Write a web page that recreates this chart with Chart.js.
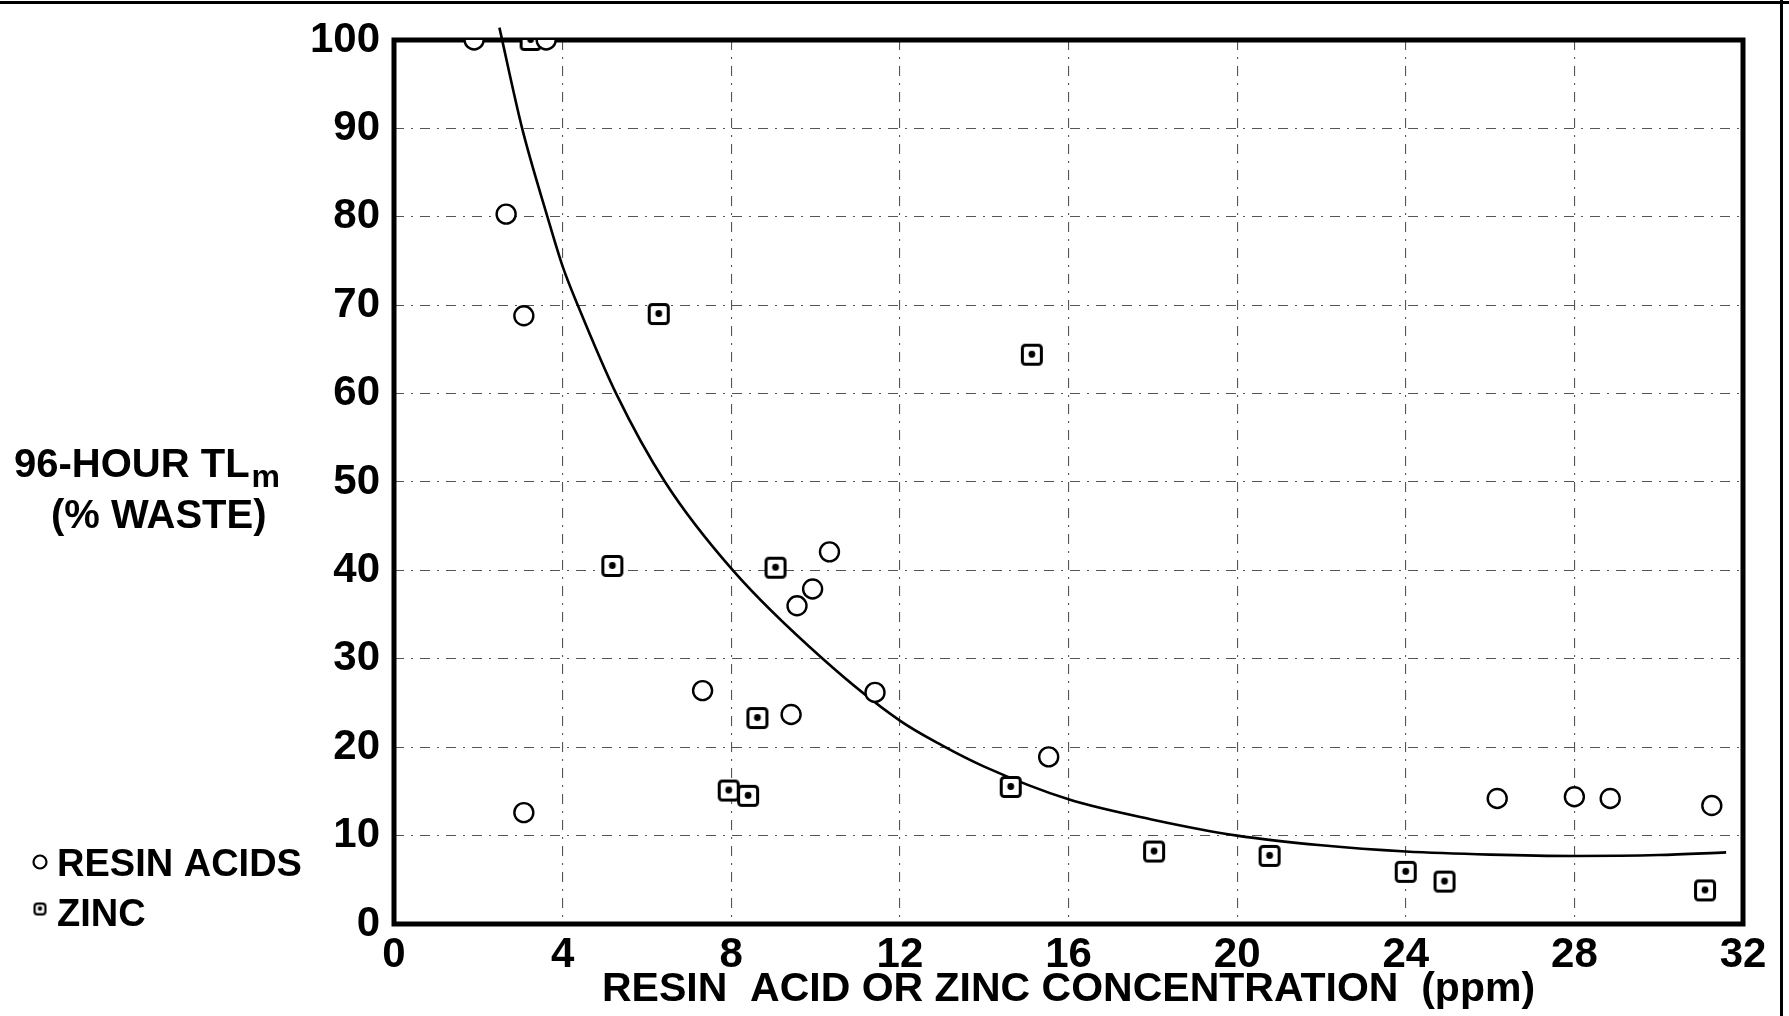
<!DOCTYPE html>
<html>
<head>
<meta charset="utf-8">
<title>96-Hour TLm vs Resin Acid or Zinc Concentration</title>
<script src="https://cdn.jsdelivr.net/npm/chart.js@4.4.0/dist/chart.umd.min.js"></script>
<style>
  html, body { margin: 0; padding: 0; background: #fff; }
  #wrap { position: relative; width: 1789px; height: 1016px; }
</style>
</head>
<body>
<div id="wrap"><canvas id="tlmChart" width="1789" height="1016"></canvas></div>
<script>
// resin acids, open circles (ppm, % waste)
const resinX = [1.9, 3.61, 2.66, 3.08, 3.08, 7.32, 9.42, 9.56, 9.93, 10.33, 11.41, 15.53, 26.17, 28.0, 28.85, 31.26];
const resinY = [100, 100, 80.3, 68.8, 12.6, 26.4, 23.7, 36.0, 37.9, 42.1, 26.2, 18.9, 14.2, 14.4, 14.2, 13.4];

// zinc, squares with a dot
const zincX = [3.24, 6.28, 15.13, 5.18, 9.05, 8.62, 7.94, 8.40, 14.63, 18.03, 20.77, 24.0, 24.92, 31.10];
const zincY = [100, 69.0, 64.4, 40.5, 40.3, 23.3, 15.1, 14.5, 15.5, 8.2, 7.7, 5.9, 4.8, 3.8];

// hand-fitted curve through both sets
const curveX = [2.5, 3.04, 3.64, 4.0, 4.36, 5.27, 6.43, 8.04, 10.17, 12.0, 13.0, 14.0, 16.0, 18.0, 20.0, 22.0, 24.0, 26.0, 28.0, 30.0, 31.6];
const curveY = [101.4, 90, 80, 74.4, 70, 60, 50, 40, 30, 23.0, 20.2, 17.8, 14.1, 11.8, 10.0, 8.9, 8.2, 7.85, 7.7, 7.8, 8.1];

const xTicks = [0, 4, 8, 12, 16, 20, 24, 28, 32];
const yTicks = [0, 10, 20, 30, 40, 50, 60, 70, 80, 90, 100];

const FONT = '"Liberation Sans", Arial, sans-serif';

const toPoints = (xs, ys) => xs.map((x, i) => ({ x: x, y: ys[i] }));

// rounded square with a dot in the middle, used as the zinc marker
function makeZincMarker(size, line, dot) {
    const c = document.createElement('canvas');
    c.width = size;
    c.height = size;
    const g = c.getContext('2d');
    const pad = line / 2 + 1;
    g.beginPath();
    g.roundRect(pad, pad, size - 2 * pad, size - 2 * pad, 3);
    g.fillStyle = '#fff';
    g.fill();
    g.lineWidth = line;
    g.strokeStyle = '#000';
    g.stroke();
    g.beginPath();
    g.arc(size / 2, size / 2 - 0.5, dot, 0, Math.PI * 2);
    g.fillStyle = '#000';
    g.fill();
    return c;
}

const zincMarker = makeZincMarker(24, 3, 3.4);
const zincLegendMarker = makeZincMarker(15, 2.2, 2.2);

const decorPlugin = {
    id: 'decor',
    beforeDatasetsDraw(chart) {
        const { ctx, chartArea: a } = chart;
        ctx.save();
        ctx.strokeStyle = '#000';
        ctx.lineWidth = 5;
        ctx.strokeRect(a.left, a.top, a.right - a.left, a.bottom - a.top);
        ctx.restore();
    },
    afterDraw(chart) {
        const ctx = chart.ctx;
        ctx.save();
        ctx.fillStyle = '#000';
        ctx.textAlign = 'left';
        ctx.textBaseline = 'alphabetic';

        // y axis title with subscript m
        ctx.font = 'bold 40px ' + FONT;
        ctx.fillText('96-HOUR TL', 14, 477);
        const w = ctx.measureText('96-HOUR TL').width;
        ctx.font = 'bold 32px ' + FONT;
        ctx.fillText('m', 14 + w + 2, 487);
        ctx.font = 'bold 40px ' + FONT;
        ctx.fillText('(% WASTE)', 51, 528);

        // legend
        ctx.beginPath();
        ctx.arc(40, 862, 6.5, 0, Math.PI * 2);
        ctx.lineWidth = 2.2;
        ctx.strokeStyle = '#000';
        ctx.stroke();
        ctx.font = 'bold 38px ' + FONT;
        ctx.fillText('RESIN ACIDS', 57, 876);
        ctx.drawImage(zincLegendMarker, 40 - 7.5, 909 - 7.5);
        ctx.fillText('ZINC', 57, 926);

        // sheet edges
        ctx.fillRect(0, 1, 1789, 3);
        ctx.fillRect(1780, 0, 3, 1016);
        ctx.restore();
    }
};

Chart.defaults.font.family = FONT;
Chart.defaults.color = '#000';

new Chart(document.getElementById('tlmChart'), {
    type: 'scatter',
    data: {
        datasets: [
            {
                label: 'Curve',
                data: toPoints(curveX, curveY),
                showLine: true,
                borderColor: '#000',
                borderWidth: 2.6,
                pointRadius: 0,
                cubicInterpolationMode: 'monotone',
                fill: false,
                clip: false,
                order: 3,
            },
            {
                label: 'RESIN ACIDS',
                data: toPoints(resinX, resinY),
                pointStyle: 'circle',
                pointRadius: 9.5,
                borderWidth: 2.4,
                borderColor: '#000',
                backgroundColor: '#fff',
                order: 1,
            },
            {
                label: 'ZINC',
                data: toPoints(zincX, zincY),
                pointStyle: zincMarker,
                pointRadius: 12,
                order: 2,
            },
        ],
    },
    options: {
        responsive: false,
        animation: false,
        devicePixelRatio: 1,
        layout: { padding: { left: 0, top: 40, right: 46, bottom: 0 } },
        plugins: {
            legend: { display: false },
            title: { display: false },
            tooltip: { enabled: false },
        },
        scales: {
            x: {
                type: 'linear',
                min: 0,
                max: 32,
                afterFit(scale) { scale.height = 92; },
                afterBuildTicks(scale) { scale.ticks = xTicks.map(v => ({ value: v })); },
                ticks: {
                    autoSkip: false,
                    maxRotation: 0,
                    padding: 6,
                    font: { size: 42, weight: 'bold' },
                },
                grid: { color: '#555', lineWidth: 1.1, drawTicks: false },
                border: { display: false, dash: [10, 7, 2, 7] },
                title: {
                    display: true,
                    text: 'RESIN  ACID OR ZINC CONCENTRATION  (ppm)',
                    font: { size: 41, weight: 'bold' },
                    padding: { top: 0, bottom: 2 },
                },
            },
            y: {
                min: 0,
                max: 100,
                afterFit(scale) { scale.width = 394; },
                afterBuildTicks(scale) { scale.ticks = yTicks.map(v => ({ value: v })); },
                ticks: {
                    autoSkip: false,
                    padding: 14,
                    font: { size: 42, weight: 'bold' },
                },
                grid: { color: '#555', lineWidth: 1.1, drawTicks: false },
                border: { display: false, dash: [10, 7, 2, 7] },
            },
        },
    },
    plugins: [decorPlugin],
});
</script>
</body>
</html>
